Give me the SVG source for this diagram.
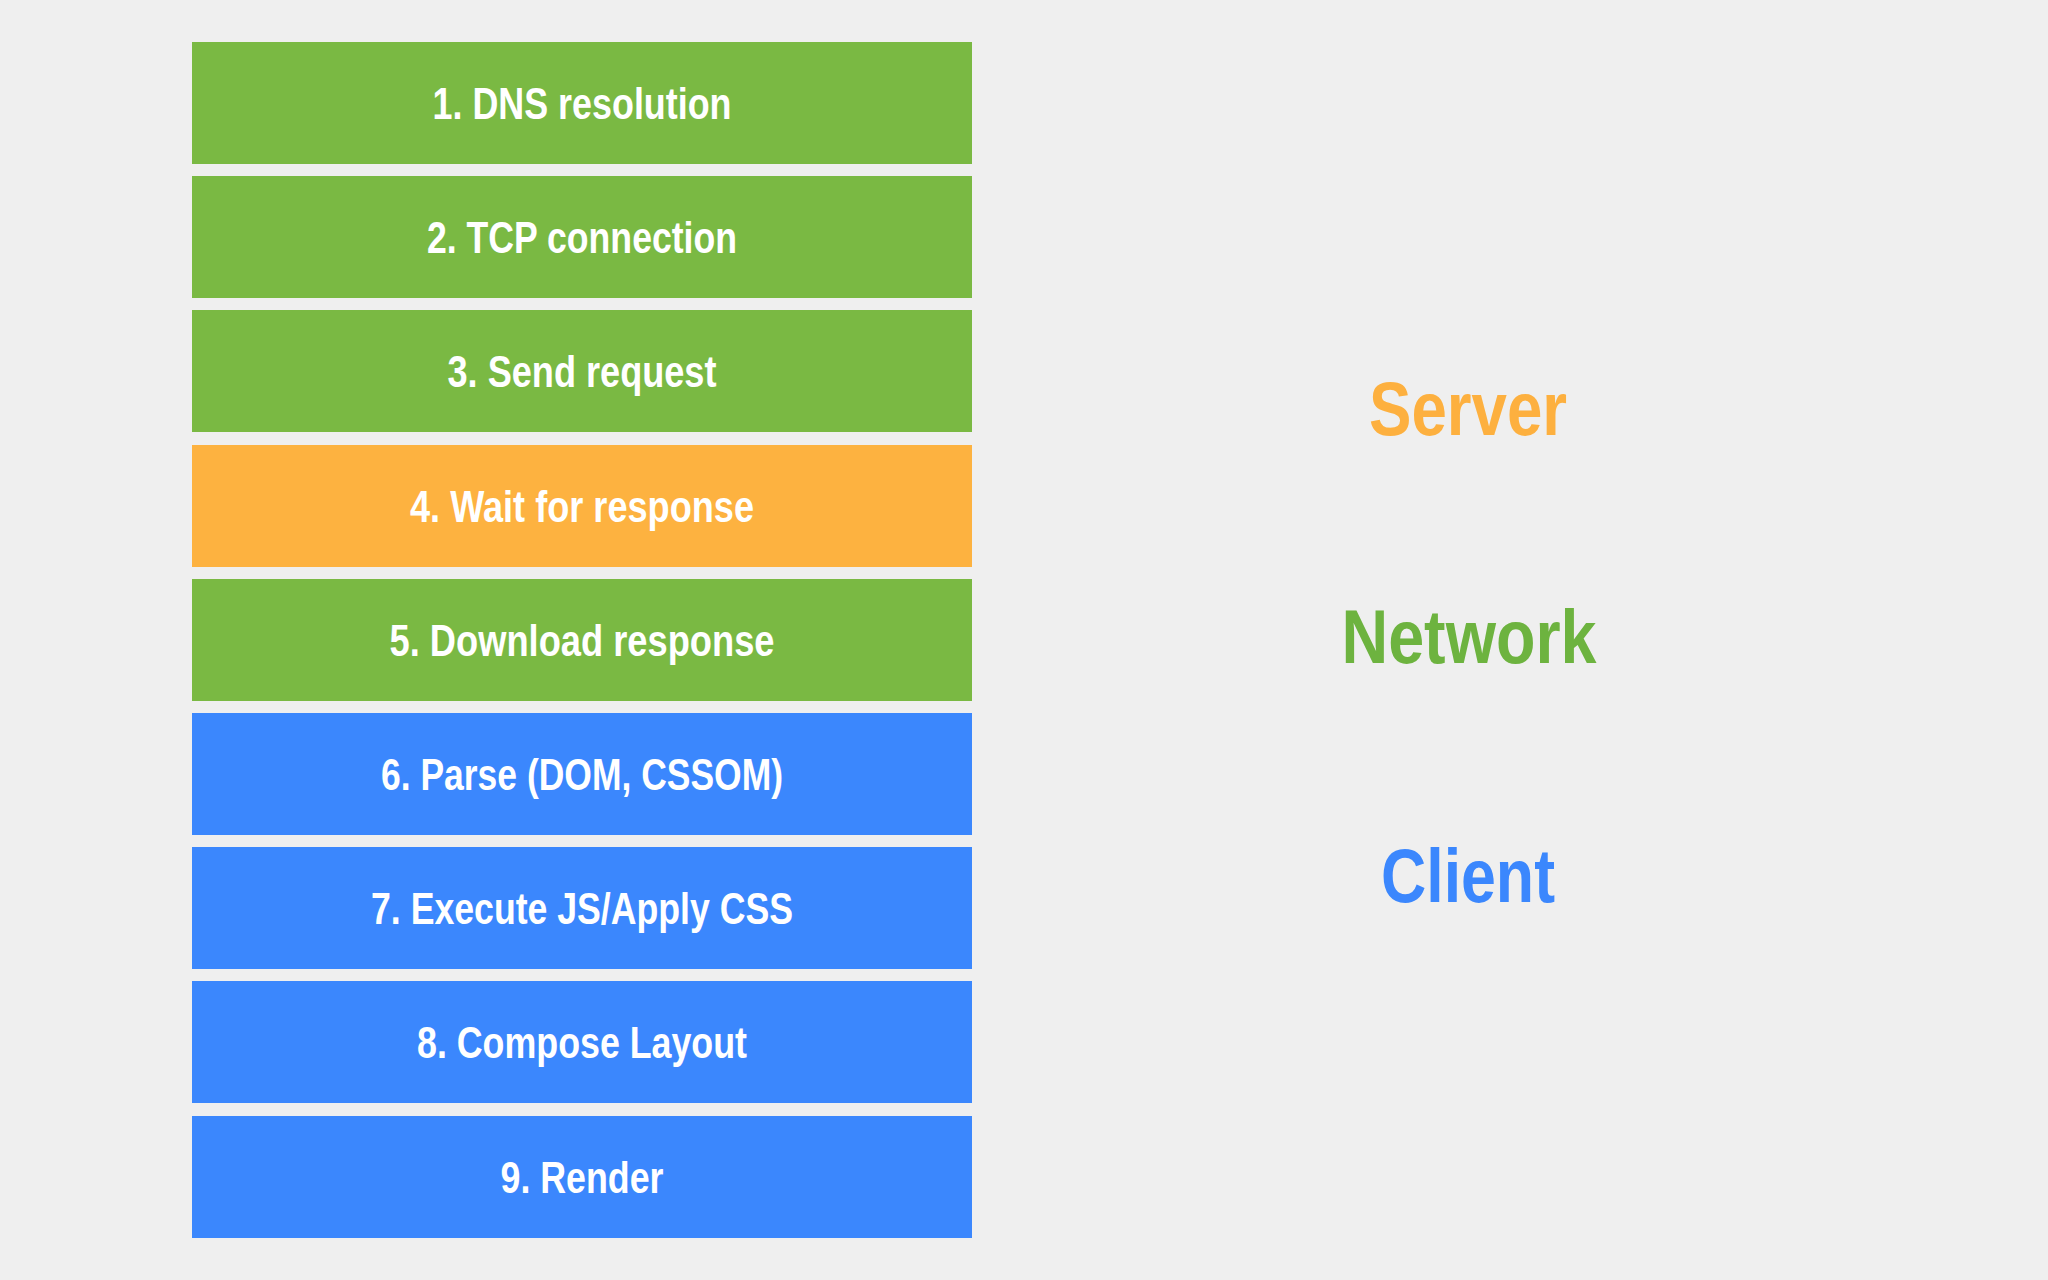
<svg xmlns="http://www.w3.org/2000/svg" width="2048" height="1280" viewBox="0 0 2048 1280">
  <style>
    .box { stroke: none; }
    .green { fill: #7AB943; }
    .orange { fill: #FDB240; }
    .blue { fill: #3B87FD; }
    .lbl { font-family: "Liberation Sans", Arial, sans-serif; font-weight: bold; font-size: 44px; fill: #FFFFFF; text-anchor: middle; }
    .side { font-family: "Liberation Sans", Arial, sans-serif; font-weight: bold; font-size: 76px; text-anchor: middle; }
  </style>
  <rect x="0" y="0" width="2048" height="1280" fill="#EFEFEF"/>

  <g id="node-1"><rect class="box green" x="192" y="42" width="780" height="122"/><text class="lbl" x="582" y="119" textLength="299" lengthAdjust="spacingAndGlyphs">1. DNS resolution</text></g>
  <g id="node-2"><rect class="box green" x="192" y="176" width="780" height="122"/><text class="lbl" x="582" y="253" textLength="310" lengthAdjust="spacingAndGlyphs">2. TCP connection</text></g>
  <g id="node-3"><rect class="box green" x="192" y="310" width="780" height="122"/><text class="lbl" x="582" y="387" textLength="269" lengthAdjust="spacingAndGlyphs">3. Send request</text></g>
  <g id="node-4"><rect class="box orange" x="192" y="445" width="780" height="122"/><text class="lbl" x="582" y="522" textLength="344" lengthAdjust="spacingAndGlyphs">4. Wait for response</text></g>
  <g id="node-5"><rect class="box green" x="192" y="579" width="780" height="122"/><text class="lbl" x="582" y="656" textLength="385" lengthAdjust="spacingAndGlyphs">5. Download response</text></g>
  <g id="node-6"><rect class="box blue" x="192" y="713" width="780" height="122"/><text class="lbl" x="582" y="790" textLength="402" lengthAdjust="spacingAndGlyphs">6. Parse (DOM, CSSOM)</text></g>
  <g id="node-7"><rect class="box blue" x="192" y="847" width="780" height="122"/><text class="lbl" x="582" y="924" textLength="422" lengthAdjust="spacingAndGlyphs">7. Execute JS/Apply CSS</text></g>
  <g id="node-8"><rect class="box blue" x="192" y="981" width="780" height="122"/><text class="lbl" x="582" y="1058" textLength="330" lengthAdjust="spacingAndGlyphs">8. Compose Layout</text></g>
  <g id="node-9"><rect class="box blue" x="192" y="1116" width="780" height="122"/><text class="lbl" x="582" y="1193" textLength="163" lengthAdjust="spacingAndGlyphs">9. Render</text></g>

  <g id="connectors"></g>

  <g id="label-server"><text class="side" x="1468" y="435" fill="#FDB03F" textLength="198" lengthAdjust="spacingAndGlyphs">Server</text></g>
  <g id="label-network"><text class="side" x="1469" y="663" fill="#6DB33F" textLength="255" lengthAdjust="spacingAndGlyphs">Network</text></g>
  <g id="label-client"><text class="side" x="1468" y="902" fill="#3B87FD" textLength="174" lengthAdjust="spacingAndGlyphs">Client</text></g>
</svg>
